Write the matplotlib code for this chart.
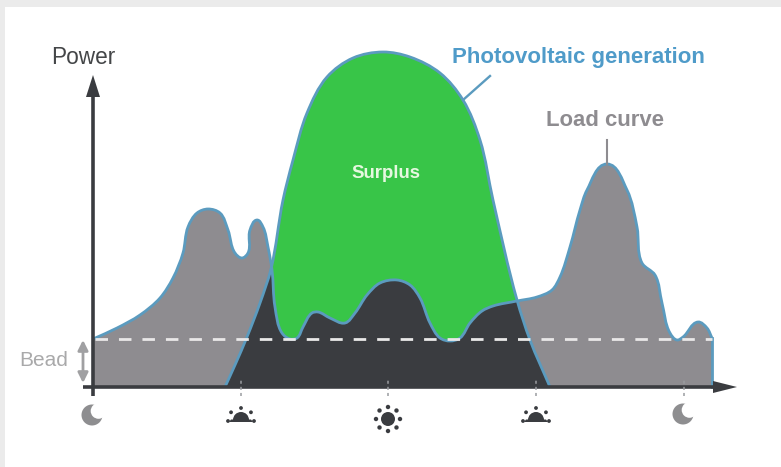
import matplotlib
matplotlib.use("Agg")
import matplotlib.pyplot as plt
import numpy as np
from matplotlib.path import Path
from matplotlib.patches import PathPatch, Circle, Wedge, Rectangle, Polygon

plt.rcParams['font.family'] = ['Liberation Sans', 'DejaVu Sans']

# Values (arbitrary units: time along x, power above baseline)
load_t = [0, 24, 47, 67, 80, 90, 95, 104, 115, 127, 135, 142, 149, 155, 157, 164, 170, 175, 179,
          182, 189, 197, 204, 210, 219, 225, 237, 252, 262, 274, 287, 304, 317, 327, 337, 347,
          357, 367, 377, 389, 400, 424, 444, 459, 467, 477, 487, 494, 514, 534, 544,
          549, 562, 569, 577, 584, 590, 605, 614, 619]
load_p = [48, 59, 72, 89, 109, 134, 160, 174, 178, 174, 157, 134, 129, 134, 157, 167, 160, 140, 117,
          80, 54, 48, 49, 60, 74, 75, 69, 64, 74, 92, 104, 107, 102, 89, 64, 49,
          46, 49, 64, 76, 81, 86, 90, 97, 110, 140, 177, 197, 223, 197, 160,
          124, 112, 84, 54, 47, 50, 65, 59, 49]
pv_t = [132, 142, 154, 167, 178, 190, 200, 214, 234, 260, 290, 317, 347, 370, 387, 400, 424, 437, 457]
pv_p = [0, 22, 50, 84, 118, 187, 227, 274, 310, 329, 335, 330, 314, 287, 247, 187, 87, 47, 0]
base_level = 48
x_ticks = [148, 295, 443, 591]

GREY, DARK, GREEN, BLUE = '#8e8c90', '#3a3c40', '#38c548', '#5b9bbf'

fig = plt.figure(figsize=(7.81, 4.67), dpi=100, facecolor='#ebebeb')
ax = fig.add_axes([0, 0, 1, 1])
X0, Y0 = 93, 387
ax.set_xlim(-X0, 781 - X0)
ax.set_ylim(Y0 - 467, Y0)
ax.axis('off')
ax.add_patch(Rectangle((5 - X0, Y0 - 467), 781, 467 - 7, fc='white', ec='none', zorder=0))


def smooth(xs, ys, k=0.33):
    """Bezier path through the given points, handles scaled to each segment's length."""
    pts = np.column_stack([xs, ys]).astype(float)
    n = len(pts)
    tang = np.zeros_like(pts)
    for i in range(n):
        a, b = pts[max(i - 1, 0)], pts[min(i + 1, n - 1)]
        u0 = pts[i] - a
        u1 = b - pts[i]
        l0, l1 = np.hypot(*u0), np.hypot(*u1)
        v = (u0 / l0 if l0 else 0) + (u1 / l1 if l1 else 0)
        tang[i] = v / np.hypot(*v)
    verts, codes = [pts[0]], [Path.MOVETO]
    for i in range(n - 1):
        s = np.hypot(*(pts[i + 1] - pts[i])) * k
        verts += [pts[i] + tang[i] * s, pts[i + 1] - tang[i + 1] * s, pts[i + 1]]
        codes += [Path.CURVE4] * 3
    return np.array(verts), codes


lv, lc = smooth(load_t, load_p)
pv, pc = smooth(pv_t, pv_p)
load_line = Path(lv, lc)
pv_line = Path(pv, pc)
load_area = Path(np.vstack([lv, [load_t[-1], 0], [load_t[0], 0], lv[0]]),
                 lc + [Path.LINETO, Path.LINETO, Path.CLOSEPOLY])
pv_area = Path(np.vstack([pv, pv[0]]), pc + [Path.CLOSEPOLY])

ax.add_patch(PathPatch(load_area, fc=GREY, ec='none', zorder=1))
pv_patch = PathPatch(pv_area, fc=GREEN, ec='none', zorder=2)
ax.add_patch(pv_patch)
dark = PathPatch(load_area, fc=DARK, ec='none', zorder=3)
ax.add_patch(dark)
dark.set_clip_path(pv_patch)

ax.add_patch(PathPatch(load_line, fc='none', ec=BLUE, lw=2.0, zorder=4))
ax.add_patch(PathPatch(pv_line, fc='none', ec=BLUE, lw=2.0, zorder=4))
ax.plot([load_t[-1], load_t[-1]], [load_p[-1], 0], color=BLUE, lw=2.0, zorder=4)

# dashed base level
ax.plot([2, 619], [base_level, base_level], color='#e9e8e8', lw=2.0, zorder=5,
        dashes=(4.5, 3.95), dash_capstyle='butt')

# axes
ax.plot([-10, 622], [0, 0], color=DARK, lw=2.6, zorder=6, solid_capstyle='butt')
ax.plot([0, 0], [-9, 292], color=DARK, lw=2.6, zorder=6, solid_capstyle='butt')
ax.add_patch(Polygon([[0, 312], [-7, 290], [7, 290]], fc=DARK, ec='none', zorder=6))
ax.add_patch(Polygon([[644, 0], [620, 6], [620, -6]], fc=DARK, ec='none', zorder=6))

# ticks
for t in x_ticks:
    ax.plot([t, t], [-9, 7], color='#9a9ca0', lw=1.1, ls=(0, (2, 2)), zorder=7)

# Bead arrow
ax.annotate('', xy=(-10, 47), xytext=(-10, 4),
            arrowprops=dict(arrowstyle='<|-|>', color='#a0a0a2', lw=2.0, shrinkA=0, shrinkB=0, mutation_scale=15))


# icons
def moon(cx, cy):
    ax.add_patch(Circle((cx, cy), 10.5, fc='#8e8e90', ec='none', zorder=7))
    ax.add_patch(Circle((cx + 6.5, cy + 4), 7.8, fc='white', ec='none', zorder=8))


def sunrise(cx, cy):
    ax.add_patch(Wedge((cx, cy), 8, 0, 180, fc=DARK, ec='none', zorder=7))
    ax.add_patch(Polygon([[cx - 10, cy + 0.5], [cx + 10, cy + 0.5], [cx + 12, cy - 2], [cx - 12, cy - 2]],
                         fc=DARK, ec='none', zorder=7))
    for a in (0, 40, 90, 140, 180):
        r = np.deg2rad(a)
        ax.add_patch(Circle((cx + 13 * np.cos(r), cy + 12 * np.sin(r) - (1 if a in (0, 180) else 0)),
                            1.9, fc=DARK, ec='none', zorder=7))


moon(-1, -28)
moon(590, -27)
sunrise(148, -33)
sunrise(443, -33)
ax.add_patch(Circle((295, -32), 7, fc=DARK, ec='none', zorder=7))
for a in range(0, 360, 45):
    r = np.deg2rad(a)
    ax.add_patch(Circle((295 + 12 * np.cos(r), -32 + 12 * np.sin(r)), 2.2, fc=DARK, ec='none', zorder=7))

# leaders
ax.plot([370, 397], [287, 311], color=BLUE, lw=1.7, zorder=4)
ax.plot([514, 514], [223, 247], color='#8e8c90', lw=1.5, zorder=4)

# text
ax.text(-10, 330, 'Power', fontsize=16.3, color='#444648', ha='center', va='center', zorder=9)
ax.text(485.5, 330, 'Photovoltaic generation', fontsize=16, fontweight='bold', color='#4f9bc9',
        ha='center', va='center', zorder=9)
ax.text(512, 266, 'Load curve', fontsize=15.9, fontweight='bold', color='#8e8c90',
        ha='center', va='center', zorder=9)
ax.text(293, 213, 'Surplus', fontsize=13.4, fontweight='bold', color='#e6f8e0',
        ha='center', va='center', zorder=9)
ax.text(-49, 26, 'Bead', fontsize=15, color='#a9a9aa', ha='center', va='center', zorder=9)

fig.savefig('out.png', dpi=100, facecolor=fig.get_facecolor())
